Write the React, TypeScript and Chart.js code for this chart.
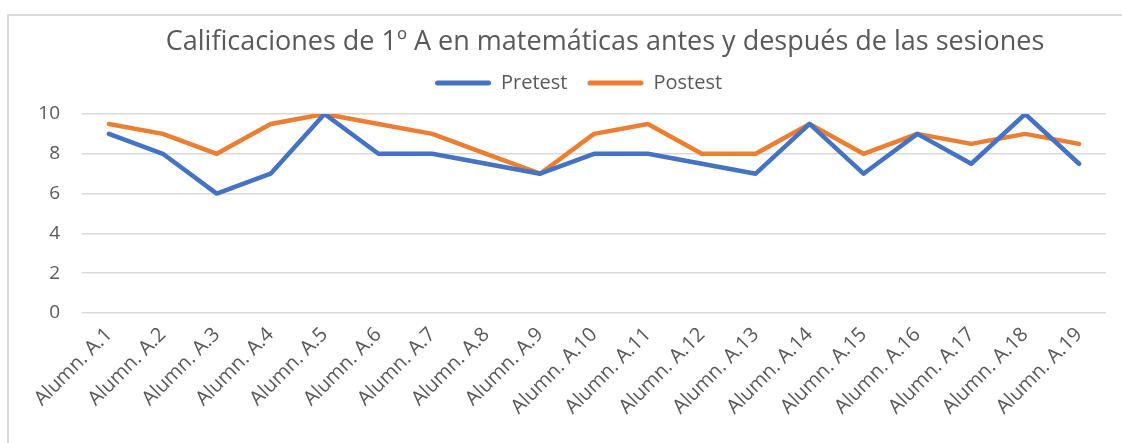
import React, { useEffect, useRef } from "react";
import { Chart, registerables } from "chart.js";

Chart.register(...registerables);

const TITLE = "Calificaciones de 1º A en matemáticas antes y después de las sesiones";
const CATEGORIES = [
  "Alumn. A.1", "Alumn. A.2", "Alumn. A.3", "Alumn. A.4", "Alumn. A.5",
  "Alumn. A.6", "Alumn. A.7", "Alumn. A.8", "Alumn. A.9", "Alumn. A.10",
  "Alumn. A.11", "Alumn. A.12", "Alumn. A.13", "Alumn. A.14", "Alumn. A.15",
  "Alumn. A.16", "Alumn. A.17", "Alumn. A.18", "Alumn. A.19",
];
const PRETEST = [9, 8, 6, 7, 10, 8, 8, 7.5, 7, 8, 8, 7.5, 7, 9.5, 7, 9, 7.5, 10, 7.5];
const POSTEST = [9.5, 9, 8, 9.5, 10, 9.5, 9, 8, 7, 9, 9.5, 8, 8, 9.5, 8, 9, 8.5, 9, 8.5];
const Y_MIN = 0;
const Y_MAX = 10;
const Y_STEP = 2;

const FONT = "'Open Sans', 'Noto Sans', sans-serif";
const TEXT = "#595959";
const GRID = "#d9d9d9";
const BLUE = "#4472C4";
const ORANGE = "#ED7D31";

const W = 1122;
const H = 443;

const positionPlugin = {
  id: "positionTitleLegend",
  afterLayout(chart: any) {
    const t = chart.titleBlock;
    if (t) {
      const dx = 605 - (t.left + t.right) / 2;
      t.left += dx;
      t.right += dx;
    }
    const lg = chart.legend;
    if (lg && lg.lineWidths) {
      const p = lg.options.labels.padding;
      const start = (lg.left + p + lg.right - lg.lineWidths[0]) / 2;
      const dx = 435 - start;
      lg.left += dx;
      lg.right += dx;
      lg.top -= 11;
      lg.bottom -= 11;
    }
  },
};

export default function App() {
  const ref = useRef<HTMLCanvasElement | null>(null);

  useEffect(() => {
    if (!ref.current) return;
    const chart = new Chart(ref.current, {
      type: "line",
      data: {
        labels: CATEGORIES,
        datasets: [
          {
            label: "Pretest",
            data: PRETEST,
            borderColor: BLUE,
            backgroundColor: BLUE,
            borderWidth: 4.5,
            pointRadius: 0,
            tension: 0,
            borderJoinStyle: "round",
            borderCapStyle: "round",
          },
          {
            label: "Postest",
            data: POSTEST,
            borderColor: ORANGE,
            backgroundColor: ORANGE,
            borderWidth: 4.5,
            pointRadius: 0,
            tension: 0,
            borderJoinStyle: "round",
            borderCapStyle: "round",
          },
        ],
      },
      options: {
        responsive: false,
        animation: false,
        devicePixelRatio: 1,
        layout: { padding: { top: 0, left: 0, right: 16, bottom: 0 } },
        plugins: {
          title: {
            display: true,
            text: TITLE,
            color: TEXT,
            font: { family: FONT, size: 27, weight: "normal", lineHeight: 1.2 },
            padding: { top: 25.8, bottom: 5.8 },
          },
          legend: {
            display: true,
            position: "top",
            labels: {
              color: TEXT,
              font: { family: FONT, size: 20 },
              boxWidth: 56,
              boxHeight: 5,
              padding: 20,
              useBorderRadius: true,
              borderRadius: 2.5,
              generateLabels: (c: any) =>
                c.data.datasets.map((d: any, i: number) => ({
                  text: d.label,
                  fillStyle: d.borderColor,
                  strokeStyle: d.borderColor,
                  lineWidth: 0,
                  fontColor: TEXT,
                  datasetIndex: i,
                  hidden: false,
                  borderRadius: 2.5,
                })),
            },
          },
          tooltip: { enabled: false },
        },
        scales: {
          x: {
            type: "category",
            offset: true,
            grid: { display: false },
            border: { display: false },
            ticks: {
              color: TEXT,
              font: { family: FONT, size: 20 },
              minRotation: 45,
              maxRotation: 45,
              autoSkip: false,
              padding: 2,
            },
            afterFit: (s: any) => {
              s.height = 130;
            },
          },
          y: {
            min: Y_MIN,
            max: Y_MAX,
            grid: { color: GRID, lineWidth: 1.5, drawTicks: false },
            border: { display: false },
            ticks: {
              stepSize: Y_STEP,
              color: TEXT,
              font: { family: FONT, size: 19 },
              padding: 22,
            },
            afterFit: (s: any) => {
              s.width = 82;
            },
          },
        },
      },
      plugins: [positionPlugin],
    } as any);
    return () => chart.destroy();
  }, []);

  return (
    <div
      style={{
        position: "fixed",
        left: 0,
        top: 0,
        width: W,
        height: H,
        overflow: "hidden",
        background: "#fff",
      }}
    >
      <div
        style={{
          position: "absolute",
          left: 7,
          top: 14,
          width: W + 50,
          height: H + 50,
          borderTop: `2px solid ${GRID}`,
          borderLeft: `2px solid ${GRID}`,
        }}
      />
      <canvas
        ref={ref}
        width={W}
        height={H}
        style={{ position: "absolute", left: 0, top: 0, width: W, height: H }}
      />
    </div>
  );
}
